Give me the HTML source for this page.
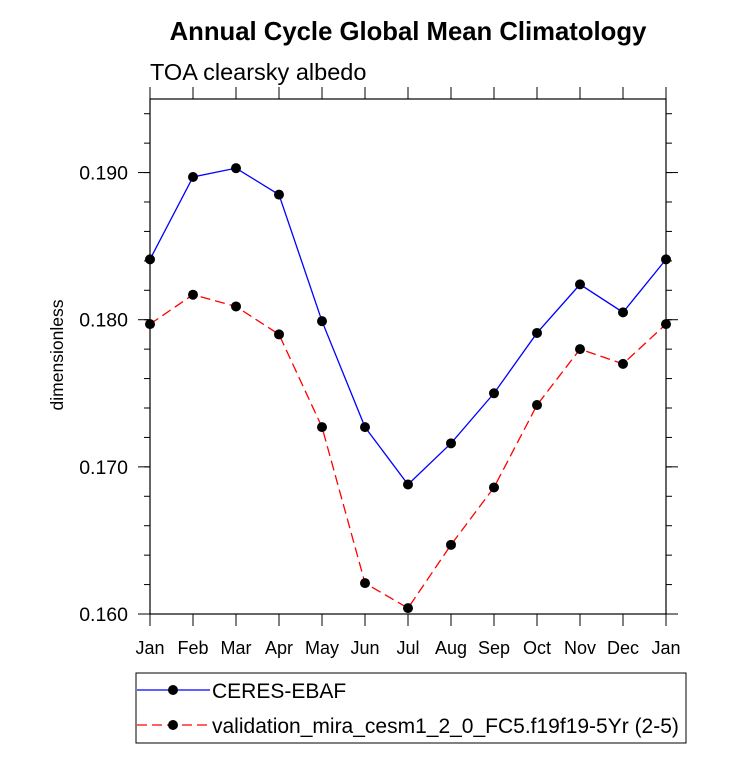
<!DOCTYPE html>
<html><head><meta charset="utf-8"><style>body{margin:0;background:#fff}svg{display:block;font-family:"Liberation Sans",Arial,sans-serif}</style></head>
<body>
<svg id="chart" width="733" height="763" xmlns="http://www.w3.org/2000/svg">
<text x="408" y="40" font-size="25.7" font-weight="bold" text-anchor="middle">Annual Cycle Global Mean Climatology</text>
<text x="150" y="80" font-size="23.5">TOA clearsky albedo</text>
<text transform="translate(63,355) rotate(-90)" font-size="17.5" text-anchor="middle">dimensionless</text>
<g id="axes"></g>
<g id="series"></g>
<g id="legend">
<rect x="136" y="673" width="550" height="70" fill="none" stroke="#000" stroke-width="1"/>
</g>
</svg>
<script>
const months=["Jan","Feb","Mar","Apr","May","Jun","Jul","Aug","Sep","Oct","Nov","Dec","Jan"];
const ceres=[0.1841,0.1897,0.1903,0.1885,0.1799,0.1727,0.1688,0.1716,0.1750,0.1791,0.1824,0.1805,0.1841];
const model=[0.1797,0.1817,0.1809,0.1790,0.1727,0.1621,0.1604,0.1647,0.1686,0.1742,0.1780,0.1770,0.1797];
const yTicks=[0.160,0.170,0.180,0.190];
const yTickLabels=["0.160","0.170","0.180","0.190"];
const yMin=0.160,yMax=0.195;
const X0=150,X1=666,Y0=614,Y1=99;
const NS="http://www.w3.org/2000/svg";
function xs(i){return X0+(X1-X0)*i/(months.length-1);}
function ys(v){return Y0-(v-yMin)/(yMax-yMin)*(Y0-Y1);}
function mk(t,a,p){const e=document.createElementNS(NS,t);for(const k in a)e.setAttribute(k,a[k]);p.appendChild(e);return e;}
const ax=document.getElementById('axes');
const frame=mk('rect',{x:X0,y:Y1,width:X1-X0,height:Y0-Y1,fill:'none',stroke:'#000','stroke-width':1.2},ax);


for(let i=0;i<months.length;i++){
  const x=xs(i);
  const t1=mk('line',{x1:x,x2:x,y1:Y0,y2:Y0+12,stroke:'#000'},ax);
  
  
  const t2=mk('line',{x1:x,x2:x,y1:Y1,y2:Y1-12,stroke:'#000'},ax);
  
  
  const l=mk('text',{x:x,y:654,'font-size':18,'text-anchor':'middle'},ax);l.textContent=months[i];
  
  
}
for(let v=yMin;v<=yMax+1e-9;v+=0.002){
  const y=ys(v);
  const t=mk('line',{x1:X0-6,x2:X0,y1:y,y2:y,stroke:'#000'},ax);
  
  
  const t2=mk('line',{x1:X1,x2:X1+6,y1:y,y2:y,stroke:'#000'},ax);
  
  
}
yTicks.forEach((v,i)=>{
  const y=ys(v);
  const t=mk('line',{x1:X0-12,x2:X0,y1:y,y2:y,stroke:'#000'},ax);
  
  
  const t2=mk('line',{x1:X1,x2:X1+12,y1:y,y2:y,stroke:'#000'},ax);
  
  
  const l=mk('text',{x:128,y:y+7,'font-size':19.5,'text-anchor':'end'},ax);l.textContent=yTickLabels[i];
  
  
});
const sg=document.getElementById('series');
function draw(vals,color,dash,name){
  const pl=mk('polyline',{points:vals.map((v,i)=>xs(i)+','+ys(v)).join(' '),fill:'none',stroke:color,'stroke-width':1.3,'stroke-dasharray':dash},sg);
  
  
  vals.forEach((v,i)=>{
    const c=mk('circle',{cx:xs(i),cy:ys(v),r:5,fill:'#000'},sg);
    
    
  });
}
draw(ceres,'#0000ff','none','ceres');
draw(model,'#ff0000','10,5','model');
const lg=document.getElementById('legend');
[['#0000ff','none','CERES-EBAF',690,'legend-entry-ceres'],['#ff0000','10,5','validation_mira_cesm1_2_0_FC5.f19f19-5Yr (2-5)',725,'legend-entry-model']].forEach(e=>{
  const g=mk('g',{},lg);
  
  
  mk('line',{x1:137,x2:210,y1:e[3],y2:e[3],stroke:e[0],'stroke-width':1.3,'stroke-dasharray':e[1]},g);
  mk('circle',{cx:173,cy:e[3],r:5,fill:'#000'},g);
  const t=mk('text',{x:212,y:e[3]+8,'font-size':21},g);t.textContent=e[2];
});
</script>
</body></html>
